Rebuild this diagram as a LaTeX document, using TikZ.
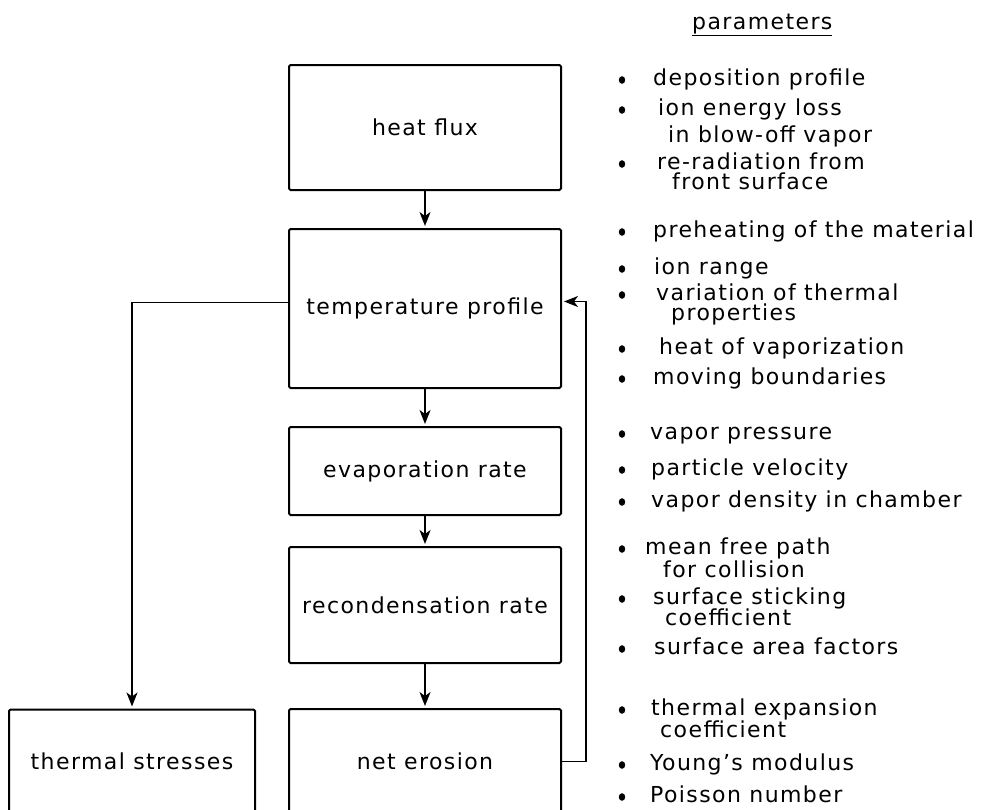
\documentclass[tikz,border=0pt]{standalone}
\usepackage{fontspec}
\setmainfont{DejaVu Sans}[LetterSpace=6.4]
\usetikzlibrary{positioning,arrows.meta}

\begin{document}
\begin{tikzpicture}[
    x=1pt, y=-1pt,
    node distance=37pt,
    box/.style={rectangle, draw, line width=2pt, rounded corners=1.5pt, minimum width=272pt, inner sep=0pt, font=\fontsize{22}{26}\selectfont},
    arrow/.style={-{Stealth[length=14pt,width=11pt,inset=4pt]}, line width=1.4pt, shorten >=2pt},
    param/.style={anchor=base west, inner sep=0pt, font=\fontsize{22}{26}\selectfont}
]
    \useasboundingbox (0,0) rectangle (990,809);

    % main chain
    \node[box, minimum height=125pt] (heat) at (425,127.5) {heat flux};
    \node[box, minimum height=159pt, below=of heat] (temp) {temperature profile};
    \node[box, minimum height=88pt, below=of temp] (evap) {evaporation rate};
    \node[box, minimum height=116pt, below=30pt of evap] (recond) {recondensation rate};
    \node[box, minimum height=105pt, below=44pt of recond] (erosion) {net erosion};
    \node[box, minimum width=246pt, minimum height=104pt, left=32pt of erosion] (stress) {thermal stresses};

    \draw[arrow] (heat) -- (temp);
    \draw[arrow] (temp) -- (evap);
    \draw[arrow] (evap) -- (recond);
    \draw[arrow] (recond) -- (erosion);
    \draw[arrow] ([yshift=6pt]temp.west) -| (stress.north);
    \draw[arrow] (erosion.east) -- ++(24,0) |- ([yshift=7pt]temp.east);

    % parameter list
    \node[param] (head) at (692,29) {\underline{parameters}};
    \foreach \x/\y/\txt [count=\i] in {
        653/85/deposition profile, 658/115/ion energy loss, 668/142/in blow-off vapor,
        657/169/re-radiation from, 672/189/front surface,
        653/237/preheating of the material, 654/274/ion range,
        656/300/variation of thermal, 671/320/properties,
        659/354/heat of vaporization, 653/384/moving boundaries,
        650/439/vapor pressure, 651/475/particle velocity, 651/507/vapor density in chamber,
        645/554/mean free path, 663/577/for collision,
        653/604/surface sticking, 665/625/coefficient, 654/654/surface area factors,
        651/715/thermal expansion, 660/737/coefficient,
        650/770/Young's modulus, 650/802/Poisson number}
        \node[param] (p\i) at (\x,\y) {\txt};
    \foreach \y in {80,110,164,232,269,295,349,379,434,470,502,549,599,649,710,765,797}
        \fill (622,\y) ellipse (3.2 and 3.8);
\end{tikzpicture}
\end{document}
